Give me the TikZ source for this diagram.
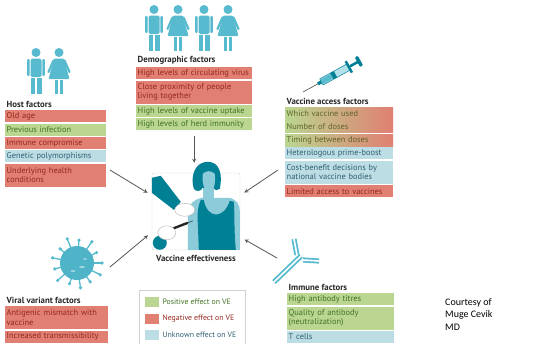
\documentclass[tikz,border=0pt]{standalone}
\usepackage{fontspec}
\setmainfont{PT Sans}
\newfontfamily\creditfont{Carlito}
\usepackage{tikz}
\usetikzlibrary{positioning}
\usetikzlibrary{calc}

\definecolor{negfill}{RGB}{224,127,114}
\definecolor{negtext}{RGB}{150,40,30}
\definecolor{posfill}{RGB}{186,214,144}
\definecolor{postext}{RGB}{65,115,35}
\definecolor{unkfill}{RGB}{188,221,227}
\definecolor{unktext}{RGB}{50,95,115}
\definecolor{mixtext}{RGB}{95,100,40}
\definecolor{iconblue}{RGB}{88,186,206}
\definecolor{darkteal}{RGB}{0,128,148}
\definecolor{skin}{RGB}{140,203,218}
\definecolor{arrowgray}{RGB}{85,85,85}
\definecolor{titlegray}{RGB}{40,40,40}
\definecolor{boxgray}{RGB}{205,210,212}

\newcommand\rowfont{\fontsize{8.4}{9.4}\selectfont}
\newcommand\titlefont{\fontsize{8.8}{10}\selectfont\bfseries}

\tikzset{
  man/.pic={
    \fill[iconblue] (0,4.5) circle (4.5pt);
    \fill[iconblue, rounded corners=1.5pt] (-5.5,10.5) rectangle (5.5,29);
    \fill[iconblue, rounded corners=1pt] (-8.8,11) rectangle (-6.4,28);
    \fill[iconblue, rounded corners=1pt] (6.4,11) rectangle (8.8,28);
    \fill[iconblue] (-5.5,29.6) rectangle (-0.6,46);
    \fill[iconblue] (0.6,29.6) rectangle (5.5,46);
  },
  woman/.pic={
    \fill[iconblue] (0,4.5) circle (4.5pt);
    \fill[iconblue, rounded corners=1pt] (-4.8,10.5) -- (4.8,10.5) -- (10.5,31) -- (-10.5,31) -- cycle;
    \draw[iconblue, line width=2.2pt, line cap=round] (-5.5,12.5) -- (-10.5,24);
    \draw[iconblue, line width=2.2pt, line cap=round] (5.5,12.5) -- (10.5,24);
    \fill[iconblue] (-4.2,31.5) rectangle (-0.7,46);
    \fill[iconblue] (0.7,31.5) rectangle (4.2,46);
  },
  antibodyline/.style={draw=iconblue, double=white, double distance=1.6pt, line width=1.8pt},
}

\begin{document}
\begin{tikzpicture}[x=1pt, y=-1pt, node distance=1pt,
    rowbox/.style={inner xsep=1.5pt, inner ysep=1.5pt, minimum height=12pt, align=left, font=\rowfont},
    tall/.style={minimum height=23pt},
    hostbox/.style={rowbox, text width=98pt},
    demobox/.style={rowbox, text width=113pt},
    accessbox/.style={rowbox, text width=105pt},
    viralbox/.style={rowbox, text width=100pt},
    immunebox/.style={rowbox, text width=104pt},
    negrow/.style={fill=negfill, text=negtext},
    posrow/.style={fill=posfill, text=postext},
    unkrow/.style={fill=unkfill, text=unktext},
    mixrow/.style={left color=posfill, right color=negfill, text=mixtext},
    grouptitle/.style={font=\titlefont, text=titlegray, inner sep=0.5pt},
    swatch/.style={minimum width=14pt, minimum height=10pt, inner sep=0pt},
    legendtext/.style={font=\fontsize{7.8}{9}\selectfont, inner sep=0pt},
    arrowline/.style={->, >=stealth, draw=arrowgray, line width=0.8pt, shorten >=5pt}]

  \fill[white] (0,0) rectangle (546,343);
  \useasboundingbox (0,0) rectangle (546,343);

  % people
  \pic at (36,48) {man};
  \pic at (59,48) {woman};
  \pic at (154,5) {man};
  \pic at (178,5) {woman};
  \pic at (204,5) {man};
  \pic at (228,5) {woman};

  % host factors
  \node[hostbox, negrow, anchor=north west] (host1) at (5,110) {Old age};
  \node[hostbox, posrow, below=of host1] (host2) {Previous infection};
  \node[hostbox, negrow, below=of host2] (host3) {Immune compromise};
  \node[hostbox, unkrow, below=of host3] (host4) {Genetic polymorphisms};
  \node[hostbox, negrow, tall, below=of host4] (host5) {Underlying health\\conditions};
  \node[grouptitle, above right=2pt and 1pt of host1.north west] (hosttitle) {Host factors};

  % demographic factors
  \node[demobox, negrow, anchor=north west] (demo1) at (136,67) {High levels of circulating virus};
  \node[demobox, negrow, tall, below=of demo1] (demo2) {Close proximity of people\\living together};
  \node[demobox, posrow, below=of demo2] (demo3) {High levels of vaccine uptake};
  \node[demobox, posrow, below=of demo3] (demo4) {High levels of herd immunity};
  \node[grouptitle, above right=2pt and 1pt of demo1.north west] (demotitle) {Demographic factors};

  % vaccine access factors
  \node[accessbox, mixrow, anchor=north west] (access1) at (285,107) {Which vaccine used};
  \node[accessbox, mixrow, below=of access1] (access2) {Number of doses};
  \node[accessbox, mixrow, below=of access2] (access3) {Timing between doses};
  \node[accessbox, unkrow, below=of access3] (access4) {Heterologous prime-boost};
  \node[accessbox, unkrow, tall, below=of access4] (access5) {Cost-benefit decisions by\\national vaccine bodies};
  \node[accessbox, negrow, below=of access5] (access6) {Limited access to vaccines};
  \node[grouptitle, above right=2pt and 1pt of access1.north west] (accesstitle) {Vaccine access factors};

  % syringe
  \begin{scope}[shift={(303,92)}, rotate=28.7]
    \draw[gray!60!black, line width=0.6pt] (0,0) -- (18,0);
    \fill[darkteal] (17,-1.6) rectangle (21,1.6);
    \filldraw[fill=iconblue!45, draw=darkteal, line width=0.5pt] (21,-3.5) rectangle (52,3.5);
    \fill[iconblue] (21.5,-2.5) rectangle (33,2.5);
    \fill[darkteal] (33,-3.5) rectangle (37,3.5);
    \fill[darkteal] (51,-6.5) rectangle (53.5,6.5);
    \fill[darkteal] (53.5,-1.3) rectangle (63,1.3);
    \fill[darkteal, rounded corners=1pt] (62,-5.5) rectangle (65.5,5.5);
  \end{scope}

  % viral variant factors
  \begin{scope}[shift={(77,263)}]
    \foreach \a/\r in {0/25,28/22,55/26,85/23,112/26,140/22,168/25,195/23,222/26,250/22,278/25,305/23,333/26}{
      \draw[iconblue, line width=1.3pt] (\a:14pt) -- (\a:\r pt);
      \fill[iconblue] (\a:\r pt) circle (1.8pt);
    }
    \fill[iconblue!90!darkteal] (0,0) circle (17pt);
    \fill[white, opacity=0.45] (5,4) ellipse (3pt and 1pt);
    \fill[white, opacity=0.45] (-4,8) ellipse (2.5pt and 1pt);
    \fill[white, opacity=0.35] (8,-4) ellipse (2pt and 1pt);
  \end{scope}
  \node[viralbox, negrow, tall, anchor=north west] (viral1) at (5,306) {Antigenic mismatch with\\vaccine};
  \node[viralbox, negrow, below=of viral1] (viral2) {Increased transmissibility};
  \node[grouptitle, above right=2pt and 1pt of viral1.north west] (viraltitle) {Viral variant factors};

  % antibody
  \draw[antibodyline] (274,282) -- (301,256);
  \draw[antibodyline] (297,255) -- (294,239);
  \draw[antibodyline] (303,260) -- (319,261);

  % immune factors
  \node[immunebox, posrow, anchor=north west] (immune1) at (287,293) {High antibody titres};
  \node[immunebox, posrow, tall, below=of immune1] (immune2) {Quality of antibody\\(neutralization)};
  \node[immunebox, unkrow, below=of immune2] (immune3) {T cells};
  \node[grouptitle, above right=2pt and 1pt of immune1.north west] (immunetitle) {Immune factors};

  % vaccine effectiveness
  \node[draw=boxgray, fill=white, rounded corners=2pt, minimum width=88pt, minimum height=77pt, inner sep=0pt] (ve) at (196,211.5) {};
  \begin{scope}[shift={(ve.north west)}]
    \fill[skin] (36,77) -- (36,42) .. controls (37,30) and (42,27) .. (50,25) -- (78,25) .. controls (85,27) and (88,32) .. (88,38) -- (88,77) -- cycle;
    \fill[skin] (51,12) rectangle (62,27);
    \fill[darkteal] (47,77) -- (46,50) .. controls (45,40) and (47,31) .. (49,27) -- (52,27) .. controls (55,46) and (72,47) .. (78,28) -- (82,29) .. controls (83,40) and (82,55) .. (84,77) -- cycle;
    \fill[darkteal] (42,16) .. controls (38,2) and (44,-11) .. (56,-11) .. controls (68,-11) and (71,2) .. (68,16) .. controls (66,18) and (63,18) .. (62,15) -- (51,15) .. controls (49,19) and (44,19) .. (42,16) -- cycle;
    \fill[skin] (51,1) .. controls (50,12) and (53,19) .. (57,19) .. controls (62,19) and (64,12) .. (63,1) .. controls (59,-3) and (54,-2) .. (51,1) -- cycle;
    \fill[darkteal] (0,5) -- (9,3) -- (29,29) -- (22,37) -- (0,20) -- cycle;
    \filldraw[fill=white, draw=gray!60, line width=0.4pt] (33,37) ellipse (10pt and 6.5pt);
    \fill[darkteal] (8,70) circle (7pt);
    \draw[gray!30!black, line width=2.4pt] (18,57) -- (36,50);
    \draw[gray!30!black, line width=0.5pt] (36,50) -- (41,48);
    \filldraw[fill=white, draw=gray!60, line width=0.4pt] (15,60) ellipse (9pt and 7pt);
  \end{scope}
  \node[grouptitle, below=4pt of ve] (velabel) {Vaccine effectiveness};

  % arrows into the centre
  \coordinate (hostout) at (110,170);
  \coordinate (accessout) at (278,170);
  \coordinate (viralout) at (110,267);
  \coordinate (immuneout) at (277,258);
  \draw[arrowline] (hostout) -- (ve.160);
  \draw[arrowline, shorten <=5pt, shorten >=10pt] (demo4.south) -- (demo4.south |- ve.north);
  \draw[arrowline] (accessout) -- (ve.20);
  \draw[arrowline] (viralout) -- (ve.205);
  \draw[arrowline] (immuneout) -- (ve.330);

  % legend
  \node[draw=boxgray, minimum width=106pt, minimum height=58pt, inner sep=0pt, anchor=north west] (legend) at (139,290) {};
  \node[swatch, fill=posfill, anchor=north west] (legpos) at (145,297) {};
  \node[swatch, fill=negfill, below=6pt of legpos] (legneg) {};
  \node[swatch, fill=unkfill, below=6pt of legneg] (legunk) {};
  \node[legendtext, text=postext, right=3pt of legpos] (legpostext) {Positive effect on VE};
  \node[legendtext, text=negtext, right=3pt of legneg] (legnegtext) {Negative effect on VE};
  \node[legendtext, text=unktext, right=3pt of legunk] (legunktext) {Unknown effect on VE};

  \node[font=\creditfont\fontsize{10}{12.5}\selectfont, align=left, anchor=north west, inner sep=0pt] (credit) at (445,298) {Courtesy of\\Muge Cevik\\MD};
\end{tikzpicture}
\end{document}
